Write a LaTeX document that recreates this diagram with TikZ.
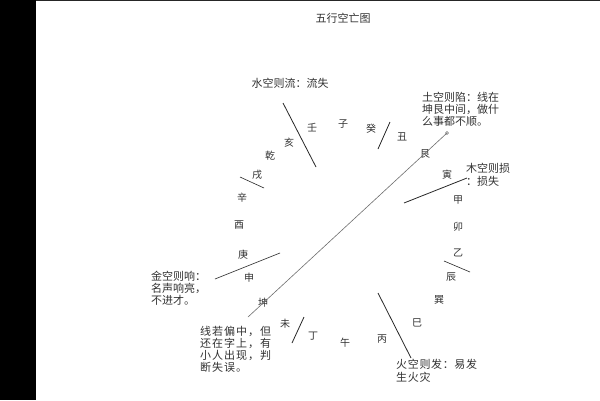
\documentclass[tikz,border=0pt]{standalone}
\usepackage{fontspec}
\setmainfont{Noto Sans CJK SC}
\usetikzlibrary{positioning}
\definecolor{mytext}{RGB}{50,50,50}
\definecolor{myline}{RGB}{40,40,40}
\definecolor{mydiag}{RGB}{110,110,110}

\begin{document}
\begin{tikzpicture}[x=1pt,y=-1pt,
  mtn/.style={text=mytext,inner sep=0pt,font=\fontsize{10}{11}\selectfont},
  note/.style={text=mytext,inner sep=0pt,anchor=north west,align=left,
    font=\fontsize{11}{11.8}\selectfont},
  wide/.style={font=\fontsize{11}{12}\selectfont\addfontfeature{LetterSpace=9}},
  sep/.style={draw=myline,line width=0.8pt},
  diag/.style={draw=mydiag,line width=0.6pt}]

  \useasboundingbox (0,0) rectangle (600,400);
  \fill[white] (0,0) rectangle (600,400);
  \fill[black] (0,0) rectangle (36,400);
  \draw[black!85,line width=1pt] (36,0.5) -- (600,0.5);

  \node[mtn,font=\fontsize{11}{12}\selectfont] (title) at (343,18) {五行空亡图};

  % the twenty-four mountains
  \node[mtn] (zi)    at (343,124) {子};
  \node[mtn] (gui)   at (371,129) {癸};
  \node[mtn] (chou)  at (402,137) {丑};
  \node[mtn] (gen)   at (425,154) {艮};
  \node[mtn] (yin)   at (447,175) {寅};
  \node[mtn] (jia)   at (458,200) {甲};
  \node[mtn] (mao)   at (458,227) {卯};
  \node[mtn] (yi)    at (458,253) {乙};
  \node[mtn] (chen)  at (451,277) {辰};
  \node[mtn] (xun)   at (439,300) {巽};
  \node[mtn] (si)    at (417,323) {巳};
  \node[mtn] (bing)  at (382,339) {丙};
  \node[mtn] (wu)    at (345,343) {午};
  \node[mtn] (ding)  at (313,336) {丁};
  \node[mtn] (wei)   at (285,324) {未};
  \node[mtn] (kun)   at (263,303) {坤};
  \node[mtn] (shen)  at (249,278) {申};
  \node[mtn] (geng)  at (243,255) {庚};
  \node[mtn] (you)   at (239,225) {酉};
  \node[mtn] (xin)   at (242,198) {辛};
  \node[mtn] (xu)    at (257,175) {戌};
  \node[mtn] (qian)  at (270,156) {乾};
  \node[mtn] (hai)   at (289,143) {亥};
  \node[mtn] (ren)   at (312,128) {壬};

  % notes
  \node[note,anchor=center] (water) at (290,83) {水空则流：流失};
  \node[note] (earth) at (422,92) {土空则陷：线在\\坤艮中间，做什\\么事都不顺。};
  \node[note,font=\fontsize{11}{13}\selectfont] (wood) at (466,163) {木空则损\\：损失};
  \node[note] (metal) at (151,271) {金空则响：\\名声响亮，\\不进才。};
  \node[note,wide] (miss) at (200,326) {线若偏中，但\\还在字上，有\\小人出现，判\\断失误。};
  \node[note,wide,font=\fontsize{11}{13}\selectfont\addfontfeature{LetterSpace=6}] (fire) at (396,359) {火空则发：易发\\生火灾};

  % ends of the strokes
  \coordinate (water1) at (283,103);  \coordinate (water2) at (316,167);
  \coordinate (gui1)   at (390,122);  \coordinate (gui2)   at (378,149);
  \coordinate (wood1)  at (467,178);  \coordinate (wood2)  at (404,203);
  \coordinate (chen1)  at (444,261);  \coordinate (chen2)  at (470,272);
  \coordinate (fire1)  at (378,293);  \coordinate (fire2)  at (411,358);
  \coordinate (wei1)   at (304,317);  \coordinate (wei2)   at (292,343);
  \coordinate (metal1) at (280,253);  \coordinate (metal2) at (215,279);
  \coordinate (xu1)    at (240,177);  \coordinate (xu2)    at (264,188);
  \coordinate (line1)  at (447,133);  \coordinate (line2)  at (248,317);

  \draw[sep] (water1) -- (water2);
  \draw[sep] (gui1) -- (gui2);
  \draw[sep] (wood1) -- (wood2);
  \draw[sep,line width=0.6pt] (chen1) -- (chen2);
  \draw[sep] (fire1) -- (fire2);
  \draw[sep] (wei1) -- (wei2);
  \draw[sep,line width=0.6pt] (metal1) -- (metal2);
  \draw[sep,line width=0.6pt] (xu1) -- (xu2);

  % line through kun and gen
  \draw[diag] (line1) -- (line2);
  \draw[diag] (line1) circle (1.5);

\end{tikzpicture}
\end{document}
